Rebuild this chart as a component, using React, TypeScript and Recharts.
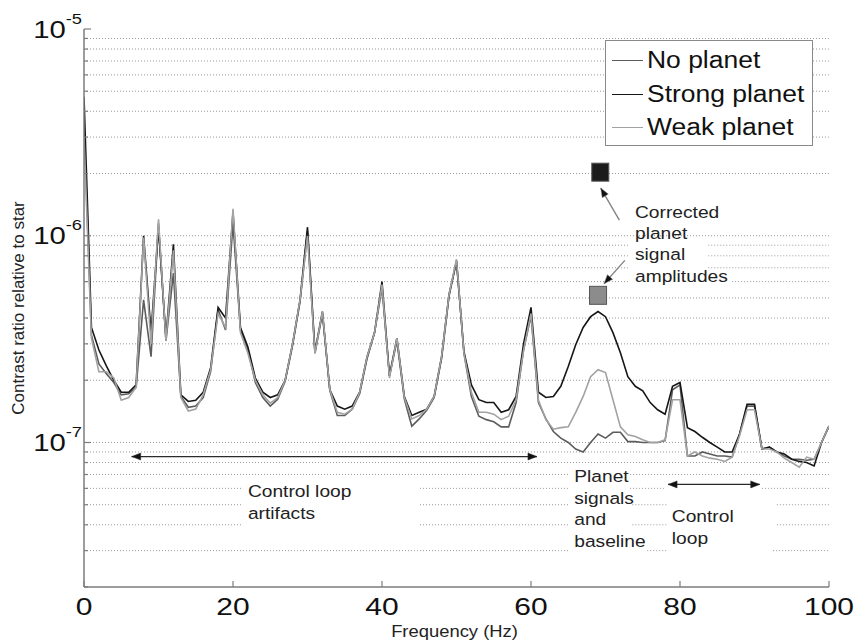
import React from "react";
import {
  ComposedChart,
  Line,
  XAxis,
  YAxis,
  ReferenceLine,
  ReferenceDot,
  Legend,
} from "recharts";

const FONT = '"Liberation Sans", Arial, Helvetica, sans-serif';
const AXIS = "#7d7d7d";
const GRID = "#9a9a9a";
const INK = "#1a1a1a";

// frequency bins (Hz)
const freqs = [
  0, 1, 2, 3, 4, 5, 6, 7, 8, 9, 10, 11, 12, 13, 14, 15, 16, 17, 18, 19, 20,
  21, 22, 23, 24, 25, 26, 27, 28, 29, 30, 31, 32, 33, 34, 35, 36, 37, 38, 39, 40,
  41, 42, 43, 44, 45, 46, 47, 48, 49, 50, 51, 52, 53, 54, 55, 56, 57, 58, 59, 60,
  61, 62, 63, 64, 65, 66, 67, 68, 69, 70, 71, 72, 73, 74, 75, 76, 77, 78, 79, 80,
  81, 82, 83, 84, 85, 86, 87, 88, 89, 90, 91, 92, 93, 94, 95, 96, 97, 98, 99, 100,
];

const noPlanet = [
  3.5e-6, 3.3e-7, 2.4e-7, 2.15e-7, 1.95e-7, 1.7e-7, 1.72e-7, 1.85e-7, 4.9e-7, 2.6e-7, 1.15e-6,
  3.1e-7, 6.6e-7, 1.67e-7, 1.48e-7, 1.5e-7, 1.65e-7, 2.2e-7, 4.4e-7, 3.5e-7, 1.15e-6,
  3.5e-7, 2.8e-7, 1.95e-7, 1.65e-7, 1.5e-7, 1.62e-7, 1.98e-7, 2.95e-7, 4.8e-7, 1.05e-6,
  2.7e-7, 4.2e-7, 1.78e-7, 1.35e-7, 1.35e-7, 1.45e-7, 1.72e-7, 2.55e-7, 3.4e-7, 5.6e-7,
  2.1e-7, 3.1e-7, 1.62e-7, 1.2e-7, 1.3e-7, 1.43e-7, 1.65e-7, 2.55e-7, 5.1e-7, 7.6e-7,
  2.7e-7, 1.67e-7, 1.34e-7, 1.29e-7, 1.26e-7, 1.19e-7, 1.19e-7, 1.56e-7, 2.8e-7, 4.1e-7,
  1.56e-7, 1.3e-7, 1.13e-7, 1.05e-7, 1.0e-7, 9.3e-8, 9.0e-8, 1.0e-7, 1.1e-7, 1.05e-7,
  1.12e-7, 1.12e-7, 1.01e-7, 1.01e-7, 1.0e-7, 1.0e-7, 1.0e-7, 1.02e-7, 1.8e-7, 1.9e-7,
  8.6e-8, 8.6e-8, 9.0e-8, 8.8e-8, 8.6e-8, 8.6e-8, 8.5e-8, 1.1e-7, 1.5e-7, 1.5e-7,
  9.3e-8, 9.5e-8, 9.0e-8, 8.6e-8, 8.3e-8, 8.3e-8, 8.2e-8, 8.3e-8, 1.0e-7, 1.2e-7,
];

const strongPlanet = [
  4.7e-6, 3.6e-7, 2.8e-7, 2.35e-7, 2.0e-7, 1.75e-7, 1.75e-7, 1.9e-7, 1.0e-6, 3.4e-7, 1.1e-6,
  3.2e-7, 9.1e-7, 1.7e-7, 1.58e-7, 1.6e-7, 1.75e-7, 2.3e-7, 4.5e-7, 4.0e-7, 1.3e-6,
  3.6e-7, 2.9e-7, 2.05e-7, 1.75e-7, 1.65e-7, 1.7e-7, 2.0e-7, 3.0e-7, 4.9e-7, 1.1e-6,
  2.75e-7, 4.3e-7, 1.8e-7, 1.5e-7, 1.45e-7, 1.5e-7, 1.75e-7, 2.6e-7, 3.4e-7, 6.0e-7,
  2.1e-7, 3.2e-7, 1.67e-7, 1.35e-7, 1.4e-7, 1.45e-7, 1.67e-7, 2.6e-7, 5.2e-7, 7.5e-7,
  2.75e-7, 1.9e-7, 1.61e-7, 1.56e-7, 1.56e-7, 1.4e-7, 1.44e-7, 1.67e-7, 3.0e-7, 4.5e-7,
  1.75e-7, 1.65e-7, 1.67e-7, 1.87e-7, 2.33e-7, 2.97e-7, 3.6e-7, 4.06e-7, 4.3e-7, 4.06e-7,
  3.4e-7, 2.72e-7, 2.08e-7, 1.87e-7, 1.78e-7, 1.56e-7, 1.44e-7, 1.37e-7, 1.87e-7, 1.95e-7,
  1.18e-7, 1.13e-7, 1.06e-7, 1.0e-7, 9.5e-8, 9.0e-8, 9.0e-8, 1.1e-7, 1.53e-7, 1.53e-7,
  9.3e-8, 9.5e-8, 9.0e-8, 8.8e-8, 8.3e-8, 8.1e-8, 8.0e-8, 7.7e-8, 1.0e-7, 1.2e-7,
];

const weakPlanet = [
  3.0e-6, 3.2e-7, 2.2e-7, 2.2e-7, 2.05e-7, 1.6e-7, 1.65e-7, 1.85e-7, 9.8e-7, 3.0e-7, 1.2e-6,
  3.1e-7, 8.5e-7, 1.65e-7, 1.42e-7, 1.45e-7, 1.7e-7, 2.25e-7, 4.2e-7, 3.6e-7, 1.35e-6,
  3.4e-7, 2.7e-7, 2.0e-7, 1.7e-7, 1.55e-7, 1.65e-7, 2.0e-7, 3.0e-7, 4.9e-7, 1.0e-6,
  2.7e-7, 4.3e-7, 1.8e-7, 1.4e-7, 1.37e-7, 1.45e-7, 1.75e-7, 2.6e-7, 3.4e-7, 5.8e-7,
  2.05e-7, 3.2e-7, 1.65e-7, 1.3e-7, 1.35e-7, 1.45e-7, 1.67e-7, 2.6e-7, 5.2e-7, 7.7e-7,
  2.7e-7, 1.75e-7, 1.4e-7, 1.4e-7, 1.37e-7, 1.29e-7, 1.34e-7, 1.61e-7, 2.8e-7, 4.2e-7,
  1.6e-7, 1.29e-7, 1.16e-7, 1.18e-7, 1.19e-7, 1.4e-7, 1.67e-7, 2.08e-7, 2.25e-7, 2.18e-7,
  1.61e-7, 1.19e-7, 1.09e-7, 1.07e-7, 1.03e-7, 1.0e-7, 1.0e-7, 1.03e-7, 1.61e-7, 1.61e-7,
  8.6e-8, 9.0e-8, 8.6e-8, 8.4e-8, 8.3e-8, 8.1e-8, 8.5e-8, 1.08e-7, 1.44e-7, 1.44e-7,
  9.3e-8, 9.3e-8, 9.0e-8, 8.4e-8, 8.0e-8, 7.6e-8, 8.5e-8, 8.3e-8, 1.0e-7, 1.2e-7,
];

// corrected planet signal amplitudes (squares)
const ampFreqs = [69.3, 69.0];
const ampValues = [2.03e-6, 5.15e-7];
const ampFills = ["#1c1c1c", "#8c8c8c"];

const xTicks = [0, 20, 40, 60, 80, 100];
const yMajor = [1e-7, 1e-6, 1e-5];
const yTicks = [
  2e-8, 3e-8, 4e-8, 5e-8, 6e-8, 7e-8, 8e-8, 9e-8,
  1e-7, 2e-7, 3e-7, 4e-7, 5e-7, 6e-7, 7e-7, 8e-7, 9e-7,
  1e-6, 2e-6, 3e-6, 4e-6, 5e-6, 6e-6, 7e-6, 8e-6, 9e-6, 1e-5,
];
const gridValues = yTicks.slice(1, -1);

// where the dotted grid is interrupted by the text boxes (Hz ranges)
const gridGaps: Record<string, [number, number][]> = {
  "1e-6": [[73, 83.8]],
  "9e-7": [[73, 83.8]],
  "8e-7": [[73, 83.8]],
  "7e-7": [[73, 83.8]],
  "6e-7": [[73, 87]],
  "7e-8": [[65, 73.3]],
  "6e-8": [[21.3, 45.1], [65, 73.3], [78, 91]],
  "5e-8": [[21.3, 45.1], [65, 73.6], [78.3, 93]],
  "4e-8": [[21.3, 45.1], [65, 73.6], [78.3, 93]],
  "3e-8": [[65, 75.6], [78.3, 92.5]],
};

const notes = [
  { lines: ["Corrected", "planet", "signal", "amplitudes"], f: 73.96, v: 1.22e-6, lh: 21.3 },
  { lines: ["Control loop", "artifacts"], f: 22.0, v: 5.42e-8, lh: 22 },
  { lines: ["Planet", "signals", "and", "baseline"], f: 65.8, v: 6.41e-8, lh: 21.5 },
  { lines: ["Control", "loop"], f: 78.9, v: 4.11e-8, lh: 22 },
];

const arrows = [
  { from: [6.4, 8.55e-8], to: [60.8, 8.55e-8], both: true, color: "#2a2a2a" },
  { from: [78.4, 6.27e-8], to: [90.7, 6.27e-8], both: true, color: "#2a2a2a" },
  { from: [71.86, 1.19e-6], to: [69.36, 1.7e-6], both: false, color: "#808080" },
  { from: [72.6, 7.6e-7], to: [69.8, 5.86e-7], both: false, color: "#808080" },
];

const rows = freqs.map((f, i) => ({
  f,
  none: noPlanet[i],
  strong: strongPlanet[i],
  weak: weakPlanet[i],
}));

function gridSegments(v: number) {
  const gaps = gridGaps[String(v)] || [];
  const segs: [number, number][] = [];
  let start = 0;
  gaps.forEach(([a, b]) => {
    segs.push([start, a]);
    start = b;
  });
  segs.push([start, 100]);
  return segs;
}

function head(x: number, y: number, ang: number, color: string) {
  const L = 9;
  const W = 3.5;
  const bx = x - L * Math.cos(ang);
  const by = y - L * Math.sin(ang);
  const px = -Math.sin(ang) * W;
  const py = Math.cos(ang) * W;
  return (
    <polygon
      points={`${x},${y} ${bx + px},${by + py} ${bx - px},${by - py}`}
      fill="#111"
      stroke={color}
      strokeWidth={0.5}
    />
  );
}

function arrowShape(both: boolean, color: string) {
  return (p: any) => {
    const { x1, y1, x2, y2 } = p;
    const ang = Math.atan2(y2 - y1, x2 - x1);
    return (
      <g>
        <line x1={x1} y1={y1} x2={x2} y2={y2} stroke={color} strokeWidth={1.3} />
        {head(x2, y2, ang, color)}
        {both && head(x1, y1, ang + Math.PI, color)}
      </g>
    );
  };
}

const LeftTick = (props: any) => {
  const { x, y, payload } = props;
  const v = payload.value;
  const major = yMajor.some((m) => Math.abs(m - v) / m < 1e-6);
  const exp = Math.round(Math.log10(v));
  return (
    <g>
      <line x1={x} y1={y} x2={x + (major ? 7 : 4)} y2={y} stroke={AXIS} strokeWidth={1.2} />
      {major && (
        <text
          transform={`translate(${x - 2},${y + 8.5}) scale(1.22,1)`}
          textAnchor="end"
          fill="#111"
          fontFamily={FONT}
        >
          <tspan fontSize={24}>10</tspan>
          <tspan fontSize={15} dy={-14}>
            {exp}
          </tspan>
        </text>
      )}
    </g>
  );
};

const RightTick = (props: any) => {
  const { x, y, payload } = props;
  const v = payload.value;
  const major = yMajor.some((m) => Math.abs(m - v) / m < 1e-6);
  return <line x1={x} y1={y} x2={x - (major ? 7 : 4)} y2={y} stroke={AXIS} strokeWidth={1.2} />;
};

const BottomTick = (props: any) => {
  const { x, y, payload } = props;
  return (
    <g>
      <line x1={x} y1={y} x2={x} y2={y - 6} stroke={AXIS} strokeWidth={1.2} />
      <text
        transform={`translate(${x},${y + 28}) scale(1.25,1)`}
        textAnchor="middle"
        fontSize={24}
        fill="#111"
        fontFamily={FONT}
      >
        {payload.value}
      </text>
    </g>
  );
};

const TopTick = (props: any) => {
  const { x, y } = props;
  return <line x1={x} y1={y} x2={x} y2={y + 6} stroke={AXIS} strokeWidth={1.2} />;
};

const renderLegend = (props: any) => {
  const payload = props.payload || [];
  return (
    <div
      style={{
        width: 208,
        height: 106,
        boxSizing: "border-box",
        border: "1.5px solid #8a8a8a",
        background: "#fff",
        padding: "3px 0 0 6px",
        fontFamily: FONT,
      }}
    >
      {payload.map((p: any) => (
        <div key={p.value} style={{ display: "flex", alignItems: "center", height: 33.5 }}>
          <span style={{ width: 31, height: 0, borderTop: `1.5px solid ${p.color}` }} />
          <span
            style={{
              marginLeft: 4,
              fontSize: 23,
              color: "#111",
              whiteSpace: "nowrap",
              display: "inline-block",
              transform: "scaleX(1.15)",
              transformOrigin: "left center",
            }}
          >
            {p.value}
          </span>
        </div>
      ))}
    </div>
  );
};

export default function App() {
  return (
    <div
      style={{
        position: "absolute",
        left: 0,
        top: 0,
        width: 854,
        height: 642,
        background: "#fff",
        fontFamily: FONT,
      }}
    >
      <ComposedChart
        width={854}
        height={642}
        data={rows}
        margin={{ top: 29, right: 25, bottom: 0, left: 0 }}
      >
        <XAxis
          dataKey="f"
          type="number"
          domain={[0, 100]}
          ticks={xTicks}
          interval={0}
          height={55}
          tickSize={0}
          tickMargin={0}
          tickLine={false}
          axisLine={{ stroke: AXIS, strokeWidth: 1.5 }}
          tick={(p: any) => <BottomTick {...p} />}
          allowDataOverflow
          label={{
            content: (p: any) => {
              const vb = p.viewBox || { x: 84, y: 587, width: 745 };
              return (
                <text
                  transform={`translate(${vb.x + vb.width / 2 - 2},${vb.y + 50}) scale(1.15,1)`}
                  textAnchor="middle"
                  fontSize={16}
                  fill="#222"
                  fontFamily={FONT}
                >
                  Frequency (Hz)
                </text>
              );
            },
          }}
        />
        <XAxis
          xAxisId="top"
          orientation="top"
          type="number"
          domain={[0, 100]}
          ticks={xTicks}
          interval={0}
          height={0}
          tickSize={0}
          tickMargin={0}
          tickLine={false}
          axisLine={{ stroke: AXIS, strokeWidth: 1.5 }}
          tick={(p: any) => <TopTick {...p} />}
          allowDataOverflow
        />
        <YAxis
          type="number"
          scale="log"
          domain={[2e-8, 1e-5]}
          ticks={yTicks}
          interval={0}
          width={84}
          tickSize={0}
          tickMargin={0}
          tickLine={false}
          axisLine={{ stroke: AXIS, strokeWidth: 1.5 }}
          tick={(p: any) => <LeftTick {...p} />}
          allowDataOverflow
          label={{
            content: (p: any) => {
              const vb = p.viewBox || { x: 0, y: 29, height: 558 };
              const cy = vb.y + vb.height / 2;
              return (
                <text
                  transform={`translate(${vb.x + 24},${cy}) rotate(-90)`}
                  textAnchor="middle"
                  fontSize={17}
                  fill="#222"
                  fontFamily={FONT}
                >
                  Contrast ratio relative to star
                </text>
              );
            },
          }}
        />
        <YAxis
          yAxisId="right"
          orientation="right"
          type="number"
          scale="log"
          domain={[2e-8, 1e-5]}
          ticks={yTicks}
          interval={0}
          width={0}
          tickSize={0}
          tickMargin={0}
          tickLine={false}
          axisLine={{ stroke: AXIS, strokeWidth: 1.5 }}
          tick={(p: any) => <RightTick {...p} />}
          allowDataOverflow
        />

        {gridValues.map((v) =>
          gridSegments(v).map(([a, b], k) => (
            <ReferenceLine
              key={`g-${v}-${k}`}
              segment={[
                { x: a, y: v },
                { x: b, y: v },
              ]}
              stroke={GRID}
              strokeWidth={1}
              strokeDasharray="1 2"
              zIndex={-50}
            />
          ))
        )}

        <Line
          dataKey="none"
          name="No planet"
          type="linear"
          stroke="#5c5c5c"
          strokeWidth={1.6}
          dot={false}
          activeDot={false}
          isAnimationActive={false}
        />
        <Line
          dataKey="strong"
          name="Strong planet"
          type="linear"
          stroke="#161616"
          strokeWidth={1.6}
          dot={false}
          activeDot={false}
          isAnimationActive={false}
        />
        <Line
          dataKey="weak"
          name="Weak planet"
          type="linear"
          stroke="#a2a2a2"
          strokeWidth={1.6}
          dot={false}
          activeDot={false}
          isAnimationActive={false}
        />

        {ampFreqs.map((f, i) => (
          <ReferenceDot
            key={`amp-${i}`}
            x={f}
            y={ampValues[i]}
            r={9}
            zIndex={1500}
            shape={(p: any) => (
              <rect
                x={p.cx - 8.5}
                y={p.cy - 9}
                width={17}
                height={18}
                fill={ampFills[i]}
                stroke="#555"
                strokeWidth={1}
              />
            )}
          />
        ))}

        {arrows.map((a, i) => (
          <ReferenceLine
            key={`arr-${i}`}
            segment={[
              { x: a.from[0], y: a.from[1] },
              { x: a.to[0], y: a.to[1] },
            ]}
            zIndex={1500}
            shape={arrowShape(a.both, a.color)}
          />
        ))}

        {notes.map((n, i) => (
          <ReferenceDot
            key={`note-${i}`}
            x={n.f}
            y={n.v}
            r={1}
            zIndex={1500}
            shape={(p: any) => (
              <text
                transform={`translate(${p.cx},${p.cy}) scale(1.13,1)`}
                fontSize={17}
                fill="#222"
                fontFamily={FONT}
              >
                {n.lines.map((l, k) => (
                  <tspan key={k} x={0} dy={k === 0 ? 0 : n.lh}>
                    {l}
                  </tspan>
                ))}
              </text>
            )}
          />
        ))}

        <Legend
          layout="horizontal"
          verticalAlign="middle"
          align="center"
          content={renderLegend}
          wrapperStyle={{ position: "absolute", left: 605, top: 40, width: 208, height: 106 }}
        />
      </ComposedChart>
    </div>
  );
}
